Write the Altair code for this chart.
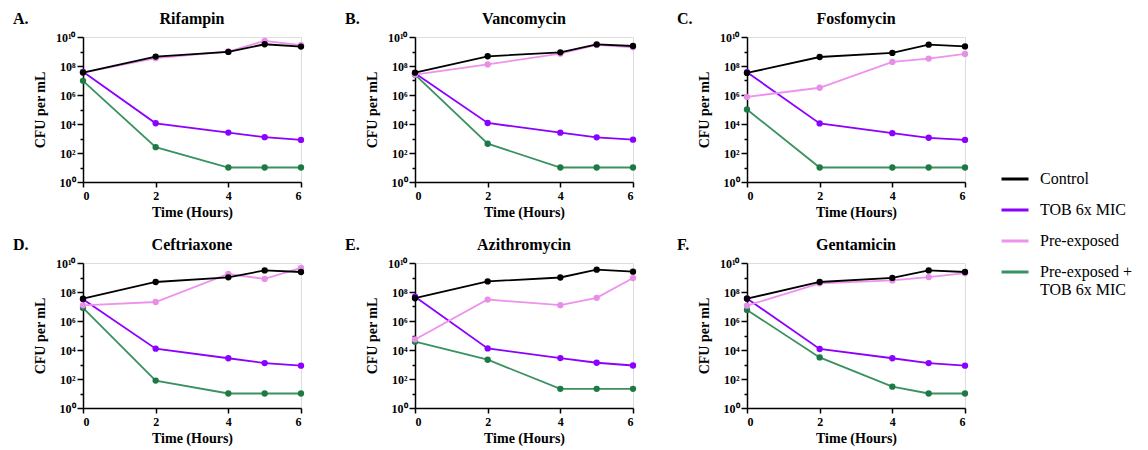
import altair as alt
import pandas as pd

times = [0, 2, 4, 5, 6]
series = ["Control", "TOB 6x MIC", "Pre-exposed", "Pre-exposed + TOB 6x MIC"]
line_colors = ["#000000", "#8B00FF", "#EE92EE", "#3A9160"]
point_colors = ["#000000", "#8B00FF", "#E88EE8", "#1E7A45"]
drugs = ["Rifampin", "Vancomycin", "Fosfomycin", "Ceftriaxone", "Azithromycin", "Gentamicin"]
letters = ["A.", "B.", "C.", "D.", "E.", "F."]

# log10(CFU per mL), order: Control, TOB, Pre-exposed, Pre-exposed + TOB
rifampin = [
    [7.55, 8.65, 8.97, 9.50, 9.34],
    [7.60, 4.05, 3.41, 3.09, 2.90],
    [7.55, 8.54, 9.00, 9.73, 9.43],
    [6.98, 2.40, 1.00, 1.00, 1.00],
]
vancomycin = [
    [7.54, 8.67, 8.94, 9.49, 9.38],
    [7.50, 4.07, 3.40, 3.08, 2.92],
    [7.40, 8.11, 8.85, 9.45, 9.29],
    [7.40, 2.64, 1.00, 1.00, 1.00],
]
fosfomycin = [
    [7.52, 8.62, 8.90, 9.47, 9.35],
    [7.57, 4.04, 3.37, 3.05, 2.90],
    [5.87, 6.50, 8.28, 8.51, 8.83],
    [5.00, 1.00, 1.00, 1.00, 1.00],
]
ceftriaxone = [
    [7.54, 8.69, 9.01, 9.49, 9.38],
    [7.50, 4.09, 3.43, 3.10, 2.92],
    [7.08, 7.31, 9.24, 8.90, 9.66],
    [6.90, 1.89, 1.00, 1.00, 1.00],
]
azithromycin = [
    [7.57, 8.73, 9.00, 9.54, 9.40],
    [7.67, 4.11, 3.44, 3.12, 2.93],
    [4.73, 7.48, 7.09, 7.60, 8.96],
    [4.57, 3.33, 1.32, 1.32, 1.32],
]
gentamicin = [
    [7.54, 8.69, 8.97, 9.49, 9.38],
    [7.55, 4.07, 3.43, 3.10, 2.92],
    [7.06, 8.60, 8.80, 9.03, 9.30],
    [6.76, 3.49, 1.47, 1.00, 1.00],
]
panel_values = [rifampin, vancomycin, fosfomycin, ceftriaxone, azithromycin, gentamicin]

FONT = "Liberation Serif"
W, H = 218, 145

exp = "round(log(datum.value)/LN10)"
label_expr = (
    f"{exp} == 10 ? '10¹⁰' : {exp} == 8 ? '10⁸' : {exp} == 6 ? '10⁶' : "
    f"{exp} == 4 ? '10⁴' : {exp} == 2 ? '10²' : {exp} == 0 ? '10⁰' : ''"
)

x_enc = alt.X(
    "t:Q",
    scale=alt.Scale(domain=[0, 6], nice=False),
    axis=alt.Axis(
        title="Time (Hours)", values=[0, 2, 4, 6], format="d",
        labelFont=FONT, labelFontSize=12, labelFontWeight="bold", labelColor="black",
        titleFont=FONT, titleFontSize=14, titleFontWeight="bold", titleColor="black",
        domainColor="black", domainWidth=1.5, tickColor="black", tickWidth=1.5,
        tickSize=5, labelPadding=3, titlePadding=4, grid=False,
    ),
)
y_enc = alt.Y(
    "cfu:Q",
    scale=alt.Scale(type="log", domain=[1, 1e10], nice=False),
    axis=alt.Axis(
        title="CFU per mL", values=[10.0 ** k for k in range(11)], labelExpr=label_expr,
        labelFont=FONT, labelFontSize=12, labelFontWeight="bold", labelColor="black",
        titleFont=FONT, titleFontSize=14, titleFontWeight="bold", titleColor="black",
        domainColor="black", domainWidth=1.5, tickColor="black", tickWidth=1.5,
        tickSize={"condition": {"test": f"{exp} % 2 == 0", "value": 6}, "value": 3},
        labelPadding=2, titlePadding=8, grid=False,
    ),
)

color_scale = alt.Scale(domain=series, range=line_colors)

def panel(i):
    rows = []
    for s_idx, s in enumerate(series):
        for t, v in zip(times, panel_values[i][s_idx]):
            rows.append({"t": t, "cfu": 10.0 ** v, "series": s})
    df = pd.DataFrame(rows)
    layers = []
    for s_idx in [3, 1, 2, 0]:
        s = series[s_idx]
        sub = alt.Chart(df[df.series == s])
        layers.append(
            sub.mark_line(strokeWidth=1.8).encode(
                x=x_enc, y=y_enc,
                color=alt.Color(
                    "series:N", scale=color_scale,
                    legend=alt.Legend(
                        title=None, orient="none", legendX=917, legendY=127,
                        symbolType="stroke", symbolSize=729, symbolStrokeWidth=3,
                        labelFont=FONT, labelFontSize=16, labelColor="black",
                        labelOffset=10, rowPadding=8, labelLimit=300,
                        labelExpr="datum.label == 'Pre-exposed + TOB 6x MIC' ? ['Pre-exposed +', 'TOB 6x MIC'] : datum.label",
                    ),
                ),
            )
        )
        layers.append(
            sub.mark_circle(size=40, opacity=1).encode(
                x=x_enc, y=y_enc, color=alt.value(point_colors[s_idx])
            )
        )
    head = pd.DataFrame({"letter": [letters[i]], "drug": [drugs[i]]})
    letter = alt.Chart(head).mark_text(
        align="left", baseline="middle", font=FONT, fontSize=16, fontWeight="bold", color="black"
    ).encode(text="letter:N", x=alt.value(-70), y=alt.value(-18))
    title = alt.Chart(head).mark_text(
        align="center", baseline="middle", font=FONT, fontSize=16, fontWeight="bold", color="black"
    ).encode(text="drug:N", x=alt.value(W / 2), y=alt.value(-18))
    layers += [letter, title]
    return alt.layer(*layers).properties(width=W, height=H)

row1 = alt.hconcat(panel(0), panel(1), panel(2), spacing=38)
row2 = alt.hconcat(panel(3), panel(4), panel(5), spacing=38)
chart = alt.vconcat(row1, row2, spacing=16).properties(
    padding={"left": 4, "top": 2, "right": 0, "bottom": 0}
).configure_view(stroke=None).configure(background="white")

chart.save("out.html", embed_options={"renderer": "svg", "actions": False})
